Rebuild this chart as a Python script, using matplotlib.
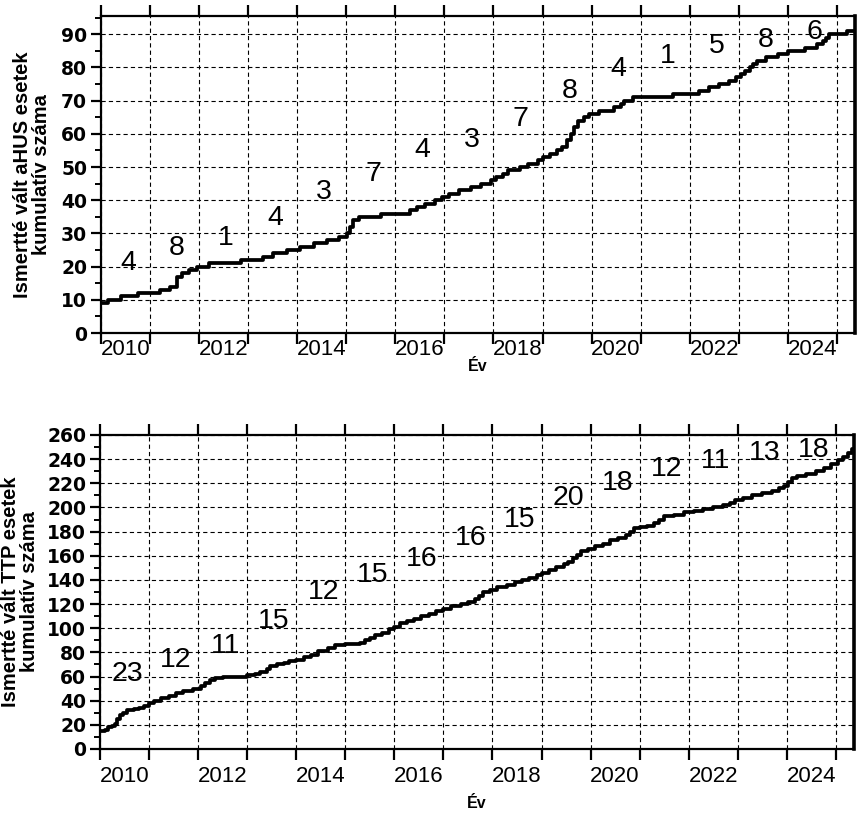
#!/usr/bin/env python3
"""
Cumulative number of recognised aHUS and TTP cases per year (step plots)
"""

import matplotlib
matplotlib.use('Agg')
import matplotlib.pyplot as plt
from matplotlib.ticker import MultipleLocator

# aHUS cumulative count: (date as fractional year, count from that date on)
ahus_t = [2010.00, 2010.15, 2010.40, 2010.75, 2011.20, 2011.40, 2011.55, 2011.65,
          2011.80, 2011.95, 2012.20, 2012.85, 2013.30, 2013.50, 2013.80, 2014.05,
          2014.35, 2014.60, 2014.85, 2015.02, 2015.08, 2015.14, 2015.25, 2015.70,
          2016.30, 2016.45, 2016.60, 2016.80, 2016.95, 2017.10, 2017.30, 2017.55,
          2017.75, 2017.95, 2018.05, 2018.20, 2018.30, 2018.55, 2018.70, 2018.90,
          2019.00, 2019.15, 2019.30, 2019.40, 2019.50, 2019.58, 2019.65, 2019.72,
          2019.85, 2019.95, 2020.16, 2020.45, 2020.60, 2020.67, 2020.85, 2021.65,
          2022.20, 2022.40, 2022.60, 2022.80, 2022.95, 2023.05, 2023.12, 2023.22,
          2023.30, 2023.38, 2023.55, 2023.80, 2024.00, 2024.35, 2024.60, 2024.72,
          2024.78, 2024.85, 2025.20, 2025.37]
ahus_n = [9, 10, 11, 12, 13, 14, 17, 18,
          19, 20, 21, 22, 23, 24, 25, 26,
          27, 28, 29, 30, 32, 34, 35, 36,
          37, 38, 39, 40, 41, 42, 43, 44,
          45, 46, 47, 48, 49, 50, 51, 52,
          53, 54, 55, 56, 58, 60, 62, 64,
          65, 66, 67, 68, 69, 70, 71, 72,
          73, 74, 75, 76, 77, 78, 79, 80,
          81, 82, 83, 84, 85, 86, 87, 88,
          89, 90, 91, 91]

# TTP cumulative count
ttp_t = [2010.00, 2010.10, 2010.17, 2010.25, 2010.30, 2010.35, 2010.40, 2010.47,
         2010.55, 2010.70, 2010.80, 2010.90, 2011.00, 2011.10, 2011.25, 2011.40,
         2011.55, 2011.70, 2011.90, 2012.05, 2012.15, 2012.25, 2012.35, 2012.50,
         2013.00, 2013.15, 2013.27, 2013.40, 2013.47, 2013.60, 2013.75, 2013.85,
         2014.00, 2014.15, 2014.30, 2014.45, 2014.65, 2014.80, 2015.00, 2015.30,
         2015.40, 2015.50, 2015.60, 2015.75, 2015.90, 2016.00, 2016.12, 2016.25,
         2016.40, 2016.55, 2016.70, 2016.85, 2017.00, 2017.15, 2017.35, 2017.50,
         2017.65, 2017.72, 2017.80, 2017.95, 2018.10, 2018.30, 2018.45, 2018.60,
         2018.75, 2018.90, 2019.00, 2019.15, 2019.30, 2019.45, 2019.55, 2019.65,
         2019.72, 2019.80, 2019.95, 2020.10, 2020.25, 2020.40, 2020.55, 2020.72,
         2020.80, 2020.88, 2021.00, 2021.15, 2021.30, 2021.40, 2021.50, 2021.70,
         2021.90, 2022.10, 2022.30, 2022.50, 2022.70, 2022.85, 2022.95, 2023.10,
         2023.30, 2023.50, 2023.70, 2023.85, 2023.95, 2024.02, 2024.10, 2024.20,
         2024.40, 2024.60, 2024.75, 2024.90, 2025.05, 2025.15, 2025.25, 2025.32,
         2025.37]
ttp_n = [15, 16, 18, 19, 21, 25, 28, 30,
         32, 33, 34, 36, 38, 40, 42, 44,
         46, 48, 50, 52, 55, 57, 59, 60,
         61, 62, 64, 66, 69, 70, 71, 73,
         74, 76, 78, 81, 84, 86, 87, 88,
         90, 92, 94, 96, 99, 101, 104, 106,
         108, 110, 112, 114, 116, 118, 120, 122,
         124, 127, 130, 132, 134, 136, 138, 140,
         142, 144, 146, 148, 151, 153, 155, 158,
         161, 164, 166, 168, 170, 173, 175, 177,
         180, 183, 184, 185, 187, 190, 193, 194,
         196, 197, 199, 200, 202, 204, 206, 208,
         210, 212, 214, 216, 218, 221, 224, 226,
         228, 230, 233, 236, 239, 242, 245, 248,
         248]

# new cases per year, written above the curve
years = list(range(2010, 2025))
ahus_per_year = [4, 8, 1, 4, 3, 7, 4, 3, 7, 8, 4, 1, 5, 8, 6]
ahus_label_y = [21, 25.7, 28.7, 34.5, 42.6, 48, 55, 58, 64.5, 73, 79.5, 83.5, 86.4, 88.2, 90.6]
ttp_per_year = [23, 12, 11, 15, 12, 15, 16, 16, 15, 20, 18, 12, 11, 13, 18]
ttp_label_y = [62, 73.5, 85.5, 106, 130, 144, 157, 175, 190, 208, 220, 231.5, 238.5, 245.5, 247.6]

year_labels = ['2010', '2012', '2014', '2016', '2018', '2020', '2022', '2024']

plt.rcParams['font.family'] = ['Liberation Sans', 'DejaVu Sans']


def style_axis(ax, ymax, ystep, yminor, ylabel, ylabel_x, xlabel_y, xpad):
    ax.set_xlim(2010, 2025.37)
    ax.set_ylim(0, ymax)

    # year boundaries carry the ticks and grid, labels sit in mid-year
    ax.set_xticks(range(2010, 2026))
    ax.set_xticklabels([])
    ax.set_xticks([int(y) + 0.5 for y in year_labels], year_labels, minor=True)
    ax.tick_params(axis='x', which='major', direction='out', length=8, width=1.6,
                   top=True, bottom=True)
    ax.tick_params(axis='x', which='minor', length=0, pad=xpad, labelsize=16)

    ax.yaxis.set_major_locator(MultipleLocator(ystep))
    ax.yaxis.set_minor_locator(MultipleLocator(yminor))
    ax.tick_params(axis='y', which='major', direction='out', length=7, width=1.6, pad=3)
    ax.tick_params(axis='y', which='minor', direction='out', length=4, width=1.4)
    for lab in ax.get_yticklabels():
        lab.set_fontfamily('DejaVu Sans')
        lab.set_fontweight('bold')
        lab.set_fontsize(13.5)

    ax.grid(True, which='major', color='black', linewidth=0.8, linestyle=(0, (3.8, 2.8)))
    ax.set_axisbelow(True)

    for side in ['left', 'top', 'bottom']:
        ax.spines[side].set_linewidth(1.6)
    ax.spines['right'].set_linewidth(2.6)

    ax.set_ylabel(ylabel, fontsize=14.5, fontweight='bold', linespacing=1.0)
    ax.yaxis.set_label_coords(ylabel_x, 0.5)
    ax.set_xlabel('Év', fontsize=11.5, fontweight='bold')
    ax.xaxis.set_label_coords(0.5, xlabel_y)


fig = plt.figure(figsize=(8.58, 8.14), dpi=100)

# aHUS
ax1 = fig.add_axes([101 / 858, 1 - 333 / 814, 754 / 858, 317 / 814])
ax1.step(ahus_t, ahus_n, where='post', color='black', linewidth=2.7)
for y, n, ly in zip(years, ahus_per_year, ahus_label_y):
    ax1.text(y + 0.55, ly, str(n), ha='center', va='center', fontsize=20.5)
style_axis(ax1, 95.5, 10, 5, 'Ismertté vált aHUS esetek\nkumulatív száma', -0.066, -0.082, 4)

# TTP
ax2 = fig.add_axes([100 / 858, 1 - 749 / 814, 754 / 858, 314 / 814])
ax2.step(ttp_t, ttp_n, where='post', color='black', linewidth=2.7)
for y, n, ly in zip(years, ttp_per_year, ttp_label_y):
    ax2.text(y + 0.55, ly, str(n), ha='center', va='center', fontsize=20.5)
style_axis(ax2, 260, 20, 10, 'Ismertté vált TTP esetek\nkumulatív száma', -0.081, -0.15, 12)

fig.savefig('out.png', dpi=100)
